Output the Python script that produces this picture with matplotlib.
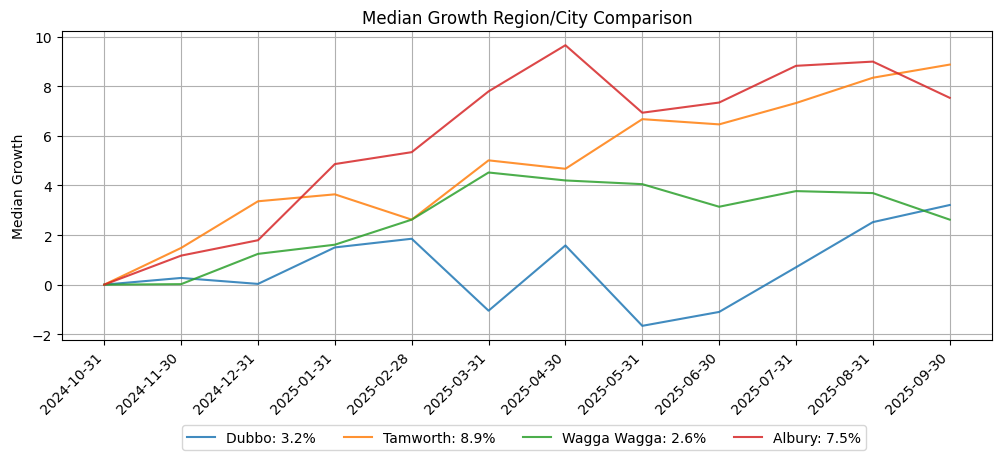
import matplotlib
matplotlib.use("Agg")
import matplotlib.pyplot as plt

# month-end dates shown on the x axis
dates = ["2024-10-31", "2024-11-30", "2024-12-31", "2025-01-31", "2025-02-28",
         "2025-03-31", "2025-04-30", "2025-05-31", "2025-06-30", "2025-07-31",
         "2025-08-31", "2025-09-30"]

# cumulative median growth (%)
dubbo = [0.0, 0.27, 0.03, 1.50, 1.85, -1.05, 1.58, -1.66, -1.10, 0.70, 2.52, 3.21]
tamworth = [0.0, 1.48, 3.36, 3.64, 2.62, 5.01, 4.67, 6.67, 6.46, 7.32, 8.34, 8.87]
wagga = [0.0, 0.02, 1.24, 1.61, 2.62, 4.52, 4.20, 4.05, 3.14, 3.77, 3.69, 2.62]
albury = [0.0, 1.17, 1.79, 4.86, 5.34, 7.79, 9.65, 6.93, 7.34, 8.82, 8.99, 7.53]

series = {"Dubbo": dubbo, "Tamworth": tamworth, "Wagga Wagga": wagga, "Albury": albury}

fig = plt.figure(figsize=(10, 4.6), dpi=100)
ax = fig.add_axes([0.062, 0.259, 0.930, 0.671])

for name, values in series.items():
    ax.plot(dates, values, alpha=0.85, label=f"{name}: {values[-1]:.1f}%")

ax.set_title("Median Growth Region/City Comparison")
ax.set_ylabel("Median Growth")
ax.grid(True)
plt.setp(ax.get_xticklabels(), rotation=45, ha="right")

fig.legend(loc="lower center", bbox_to_anchor=(0.524, 0.004), ncol=4)

fig.savefig("out.png")
